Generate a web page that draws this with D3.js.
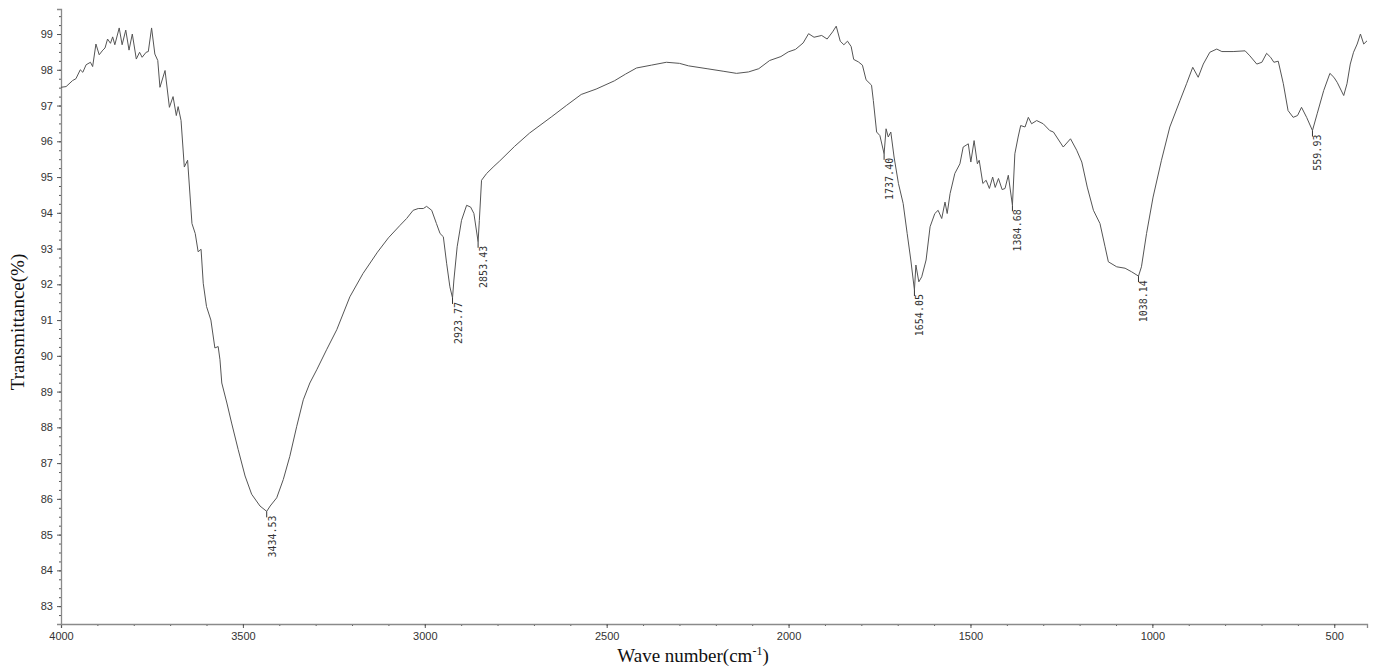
<!DOCTYPE html>
<html><head><meta charset="utf-8">
<script src="https://cdn.jsdelivr.net/npm/d3@7"></script>
<style>
html,body{margin:0;padding:0;background:#fff;}
svg{display:block;}
</style></head>
<body>
<svg id="chart" width="1373" height="669"></svg>
<script>
// ---- data ----
const wavenumbers = [4000,3986,3968,3959,3947,3940,3931,3919,3913,3904,3895,3885,3879,3872,3864,3858,3852,3840,3832,3822,3813,3804,3793,3784,3777,3766,3760,3751,3742,3734,3728,3714,3702,3692,3683,3678,3670,3661,3652,3640,3631,3623,3615,3609,3600,3588,3577,3568,3563,3558,3544,3531,3513,3494,3476,3453,3434.53,3425,3407,3389,3371,3352,3334,3316,3297,3270,3242,3206,3170,3130,3100,3068,3050,3032,3018,3004,2995,2981,2968,2958,2949,2940,2931,2923.77,2920,2911,2899,2885,2874,2865,2853.43,2850,2844,2830,2810,2794,2753,2712,2651,2611,2570,2529,2479,2448,2418,2377,2336,2300,2275,2224,2180,2143,2110,2082,2052,2021,2001,1981,1960,1945,1930,1909,1894,1879,1869,1858,1848,1838,1828,1821,1808,1797,1787,1772,1767,1758,1749,1737.40,1732,1726,1719,1710,1698,1685,1674,1664,1654.05,1650,1642,1634,1622,1611,1598,1589,1579,1570,1564,1556,1543,1529,1520,1512,1506,1499,1490,1481,1476,1466,1457,1448,1439,1432,1423,1413,1405,1396,1384.68,1378,1369,1362,1350,1341,1332,1318,1300,1282,1272,1245,1225,1208,1194,1179,1162,1144,1130,1121,1098,1075,1057,1038.14,1030,1016,998,975,952,924,906,889,874,860,842,823,809,778,745,732,713,699,686,675,666,654,640,627,613,601,590,576,559.93,547,529,512,501,492,474,465,456,447,437,428,419,410];
const transmittance = [97.51,97.53,97.70,97.75,98.00,97.93,98.14,98.21,98.09,98.72,98.42,98.55,98.61,98.86,98.74,98.92,98.70,99.17,98.70,99.11,98.55,99.00,98.30,98.49,98.35,98.49,98.51,99.17,98.44,98.26,97.51,97.98,96.95,97.25,96.72,96.97,96.58,95.28,95.47,93.70,93.42,92.91,92.98,92.03,91.38,91.00,90.22,90.26,89.89,89.24,88.68,88.12,87.38,86.64,86.13,85.80,85.65,85.80,86.03,86.54,87.19,88.03,88.77,89.24,89.61,90.17,90.73,91.65,92.30,92.90,93.30,93.65,93.84,94.07,94.12,94.12,94.18,94.07,93.70,93.42,93.33,92.59,91.93,91.62,92.12,93.05,93.79,94.21,94.16,93.98,93.19,93.79,94.91,95.10,95.30,95.45,95.86,96.23,96.69,97.00,97.31,97.46,97.69,97.88,98.05,98.13,98.21,98.18,98.11,98.03,97.96,97.90,97.94,98.03,98.26,98.37,98.50,98.57,98.75,99.01,98.91,98.96,98.86,99.06,99.22,98.80,98.70,98.80,98.65,98.29,98.22,98.13,97.72,97.57,97.14,96.26,96.16,95.65,96.35,96.12,96.26,95.56,94.82,94.26,93.42,92.68,91.84,92.54,92.07,92.21,92.68,93.61,93.98,94.07,93.84,94.30,93.98,94.54,95.10,95.37,95.84,95.89,95.93,95.42,96.02,95.37,95.47,94.82,94.91,94.68,95.00,94.71,94.96,94.65,94.68,95.05,94.21,95.65,96.12,96.44,96.40,96.67,96.49,96.58,96.49,96.30,96.26,95.84,96.07,95.75,95.42,94.72,94.07,93.70,93.05,92.63,92.49,92.45,92.35,92.23,92.49,93.42,94.44,95.47,96.40,97.14,97.61,98.07,97.79,98.16,98.49,98.58,98.51,98.51,98.53,98.39,98.16,98.21,98.46,98.35,98.21,98.24,97.61,96.86,96.67,96.72,96.95,96.67,96.30,96.77,97.42,97.90,97.79,97.65,97.28,97.61,98.16,98.49,98.72,99.00,98.72,98.81];
const peakLabels = [3434.53, 2923.77, 2853.43, 1737.40, 1654.05, 1384.68, 1038.14, 559.93];
const xMajorTicks = [4000, 3500, 3000, 2500, 2000, 1500, 1000, 500];
const yMajorTicks = [83,84,85,86,87,88,89,90,91,92,93,94,95,96,97,98,99];
const xTitle = "Wave number(cm";
const xTitleSup = "-1";
const yTitle = "Transmittance(%)";

// ---- chart ----
const svg = d3.select("#chart");
const x = d3.scaleLinear().domain([4000, 410]).range([61, 1367]);
const y = d3.scaleLinear().domain([82.5, 99.7]).range([624, 9]);
const axisColor = "#8a8a8a";

const data = wavenumbers.map((w, i) => ({w, t: transmittance[i]}));

// minor x ticks
const xMinor = d3.range(4000, 400, -100);
svg.append("g").attr("transform", "translate(0,624)")
  .call(d3.axisBottom(x).tickValues(xMinor).tickSize(2).tickFormat(""))
  .call(g => { g.select(".domain").attr("stroke", axisColor); g.selectAll("line").attr("stroke", "#555"); });
svg.append("g").attr("transform", "translate(0,624)")
  .call(d3.axisBottom(x).tickValues(xMajorTicks).tickSize(4).tickPadding(4).tickFormat(d3.format("d")))
  .call(g => {
    g.select(".domain").attr("stroke", axisColor).attr("stroke-width", 1.3);
    g.selectAll("line").attr("stroke", "#555");
    g.selectAll("text").attr("font-family", "Liberation Sans, Arial, sans-serif").attr("font-size", 11).attr("fill", "#333");
  });

// minor y ticks
const yMinor = d3.range(82.75, 99.7, 0.25).map(v => +v.toFixed(2));
svg.append("g").attr("transform", "translate(61,0)")
  .call(d3.axisLeft(y).tickValues(yMinor).tickSize(2).tickFormat(""))
  .call(g => { g.select(".domain").attr("stroke", axisColor); g.selectAll("line").attr("stroke", "#555"); });
svg.append("g").attr("transform", "translate(61,0)")
  .call(d3.axisLeft(y).tickValues(yMajorTicks).tickSize(4).tickPadding(4).tickFormat(d3.format("d")))
  .call(g => {
    g.select(".domain").attr("stroke", axisColor).attr("stroke-width", 1.3);
    g.selectAll("line").attr("stroke", "#555");
    g.selectAll("text").attr("font-family", "Liberation Sans, Arial, sans-serif").attr("font-size", 11).attr("fill", "#333");
  });

// spectrum
const line = d3.line().x(d => x(d.w)).y(d => y(d.t));
svg.append("path").datum(data)
  .attr("d", line).attr("fill", "none").attr("stroke", "#555").attr("stroke-width", 1)
  .attr("stroke-linejoin", "round");

// peak labels
const lookup = w => {
  const d = data.reduce((a, b) => Math.abs(b.w - w) < Math.abs(a.w - w) ? b : a);
  return d.t;
};
const pk = svg.append("g");
peakLabels.forEach(p => {
  const px = x(p), py = y(lookup(p));
  pk.append("line").attr("x1", px).attr("x2", px).attr("y1", py).attr("y2", py + 6)
    .attr("stroke", "#333").attr("stroke-width", 1);
  pk.append("text")
    .attr("transform", `translate(${px + 9},${py + 4}) rotate(-90)`)
    .attr("text-anchor", "end")
    .attr("font-family", "DejaVu Sans Mono, Liberation Mono, monospace")
    .attr("font-size", 10).attr("fill", "#333")
    .text(p.toFixed(2));
});

// titles
const xt = svg.append("text").attr("x", 693).attr("y", 662).attr("text-anchor", "middle")
  .attr("font-family", "Liberation Serif, Times New Roman, serif").attr("font-size", 19).attr("fill", "#111");
xt.append("tspan").text(xTitle);
xt.append("tspan").attr("font-size", 12).attr("dy", -7).text(xTitleSup);
xt.append("tspan").attr("dy", 7).text(")");

svg.append("text").attr("transform", "translate(24,322) rotate(-90)").attr("text-anchor", "middle")
  .attr("font-family", "Liberation Serif, Times New Roman, serif").attr("font-size", 19).attr("fill", "#111")
  .text(yTitle);
</script>
</body></html>
